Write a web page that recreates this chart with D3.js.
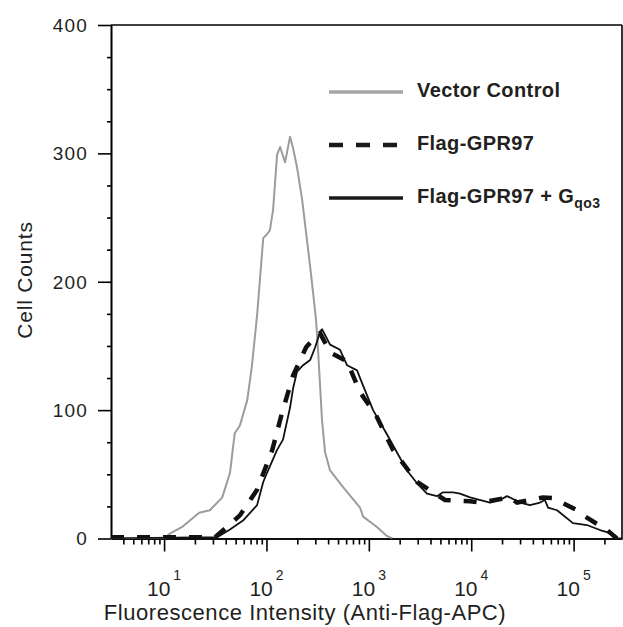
<!DOCTYPE html>
<html>
<head>
<meta charset="utf-8">
<script src="https://cdn.jsdelivr.net/npm/d3@7"></script>
<style>
  html, body { margin: 0; padding: 0; background: #fff; }
  svg { display: block; }
  text { font-family: "Liberation Sans", Arial, sans-serif; fill: #231f20; }
</style>
</head>
<body>
<svg id="chart" width="623" height="627"></svg>
<script>
// ---- Data (fluorescence intensity, cell counts) ----
const vectorX = [3.03, 10, 11.5, 15, 22, 28, 37, 44, 49, 55, 65, 72, 81, 93, 101, 108, 116, 127, 136, 152, 170, 182, 199, 223, 267, 285, 305, 319, 349, 374, 418, 560, 820, 880, 1200, 1500, 1690];
const vectorY = [0, 0, 4, 9, 20, 22, 32, 51, 82, 88, 108, 134, 174, 234, 237, 240, 256, 299, 305, 293, 313, 304, 289, 264, 212, 192, 170, 147, 92, 67, 53, 40, 24, 17, 9, 2, 0];

const flagX = [3.03, 31.5, 47, 55, 81, 114, 142, 182, 244, 299, 334, 418, 612, 820, 1175, 1722, 2956, 5550, 9730, 12200, 23900, 28000, 50200, 63000, 108000, 124000, 212000, 265000, 297000];
const flagY = [1, 1, 13, 18, 38, 69, 98, 127, 149, 157, 160, 145, 138, 114, 96, 69, 44, 30, 29, 28, 32, 28, 32, 31.5, 22, 18, 6.6, 0, 0];

const flagGX = [3.03, 33, 44, 59, 81, 93, 101, 127, 145, 170, 182, 199, 228, 267, 299, 334, 349, 418, 523, 612, 767, 859, 1100, 1506, 1884, 2360, 2956, 3700, 4630, 5300, 6640, 7770, 9730, 15270, 19100, 22380, 30000, 37500, 47000, 52500, 56200, 68900, 98600, 135000, 181000, 212000, 265000, 297000];
const flagGY = [0, 1, 7, 14, 26, 44, 51, 69, 77, 102, 117, 130, 135, 139, 149, 161, 163, 151, 147, 135, 131, 121, 100, 81, 67, 53, 43, 35, 33, 36, 36, 35, 32, 28, 30, 33, 28, 26, 28, 30, 24, 22, 12, 10.5, 6.6, 5, 0, 0];

const xDomain = [3.03, 297000];
const yDomain = [0, 400];
const xMajorTicks = [10, 100, 1000, 10000, 100000];
const xTickExponents = ["1", "2", "3", "4", "5"];
const yMajorTicks = [0, 100, 200, 300, 400];
const yMinorTicks = [25, 50, 75, 125, 150, 175, 225, 250, 275, 325, 350, 375];
const legendLabels = ["Vector Control", "Flag-GPR97", "Flag-GPR97 + G"];
const xTitle = "Fluorescence Intensity (Anti-Flag-APC)";
const yTitle = "Cell Counts";

// ---- Layout ----
const L = 111, R = 622, T = 25, B = 538.5;
const svg = d3.select("#chart");

const x = d3.scaleLog().domain(xDomain).range([L, R]);
const y = d3.scaleLinear().domain(yDomain).range([B, T]);

// minor x ticks
const xMinor = [];
[1, 10, 100, 1000, 10000, 100000].forEach(d => {
  for (let k = 2; k <= 9; k++) {
    const v = d * k;
    if (v > xDomain[0] && v < xDomain[1]) xMinor.push(v);
  }
});

// ---- Axes ----
const axisStyle = g => {
  g.selectAll("path, line").attr("stroke", "#000").attr("stroke-width", 1.6);
  g.selectAll("text").remove();
};

svg.append("g").attr("transform", `translate(0,${B})`)
  .call(d3.axisBottom(x).tickValues(xMinor).tickSize(6).tickSizeOuter(0).tickFormat(""))
  .call(axisStyle);
svg.append("g").attr("transform", `translate(0,${B})`)
  .call(d3.axisBottom(x).tickValues(xMajorTicks).tickSize(13).tickSizeOuter(0).tickFormat(""))
  .call(axisStyle);

svg.append("g").attr("transform", `translate(${L},0)`)
  .call(d3.axisLeft(y).tickValues(yMinorTicks).tickSize(4).tickSizeOuter(0).tickFormat(""))
  .call(axisStyle);
svg.append("g").attr("transform", `translate(${L},0)`)
  .call(d3.axisLeft(y).tickValues(yMajorTicks).tickSize(13).tickSizeOuter(0).tickFormat(""))
  .call(axisStyle);

// top and right frame
svg.append("line").attr("x1", L).attr("x2", R).attr("y1", y(400)).attr("y2", y(400))
  .attr("stroke", "#000").attr("stroke-width", 1.6);
svg.append("line").attr("x1", R).attr("x2", R).attr("y1", y(400)).attr("y2", y(0))
  .attr("stroke", "#000").attr("stroke-width", 1.6);

// y tick labels
svg.append("g").selectAll("text").data(yMajorTicks).join("text")
  .attr("x", 88).attr("y", d => y(d)).attr("dy", "0.36em")
  .attr("text-anchor", "end").attr("font-size", 19).attr("letter-spacing", 1.2)
  .text(d => d);

// x tick labels: 10^n
const xl = svg.append("g").selectAll("text").data(xMajorTicks).join("text")
  .attr("x", d => x(d)).attr("y", 596).attr("text-anchor", "middle").attr("font-size", 21);
xl.append("tspan").text("10");
xl.append("tspan").attr("font-size", 14).attr("dx", 3).attr("dy", -16).text((d, i) => xTickExponents[i]);

// axis titles
svg.append("text").attr("x", 305).attr("y", 620).attr("text-anchor", "middle")
  .attr("font-size", 22).attr("letter-spacing", 0.55).text(xTitle);
svg.append("text").attr("transform", "translate(32,280) rotate(-90)").attr("text-anchor", "middle")
  .attr("font-size", 21).attr("letter-spacing", 0.8).text(yTitle);

// ---- Curves ----
const line = d3.line().x(d => x(d[0])).y(d => y(d[1]));
const zip = (a, b) => a.map((v, i) => [v, b[i]]);

const clip = svg.append("clipPath").attr("id", "clip").append("rect")
  .attr("x", L).attr("y", T - 5).attr("width", R - L).attr("height", B - T + 5);

const plot = svg.append("g").attr("clip-path", "url(#clip)");
plot.append("path").datum(zip(vectorX, vectorY)).attr("d", line)
  .attr("fill", "none").attr("stroke", "#9c9c9c").attr("stroke-width", 2).attr("stroke-linejoin", "round");
plot.append("path").datum(zip(flagGX, flagGY)).attr("d", line)
  .attr("fill", "none").attr("stroke", "#111").attr("stroke-width", 1.8).attr("stroke-linejoin", "round");
plot.append("path").datum(zip(flagX, flagY)).attr("d", line)
  .attr("fill", "none").attr("stroke", "#111").attr("stroke-width", 4.5).attr("stroke-dasharray", "13,13");

// ---- Legend ----
const legY = [92, 145, 198];
const legStyles = [
  { stroke: "#a6a6a6", width: 3.5, dash: null },
  { stroke: "#1a1a1a", width: 4.5, dash: "14,13" },
  { stroke: "#1a1a1a", width: 3.5, dash: null }
];
const leg = svg.append("g");
legendLabels.forEach((lab, i) => {
  leg.append("line").attr("x1", 329).attr("x2", 403).attr("y1", legY[i]).attr("y2", legY[i])
    .attr("stroke", legStyles[i].stroke).attr("stroke-width", legStyles[i].width)
    .attr("stroke-dasharray", legStyles[i].dash);
  const t = leg.append("text").attr("x", 417).attr("y", legY[i] + 5)
    .attr("font-size", 20).attr("font-weight", "bold").attr("letter-spacing", 0.4).text(lab);
  if (i === 2) {
    t.append("tspan").attr("font-size", 14).attr("dy", 5).text("qo3");
  }
});
</script>
</body>
</html>
